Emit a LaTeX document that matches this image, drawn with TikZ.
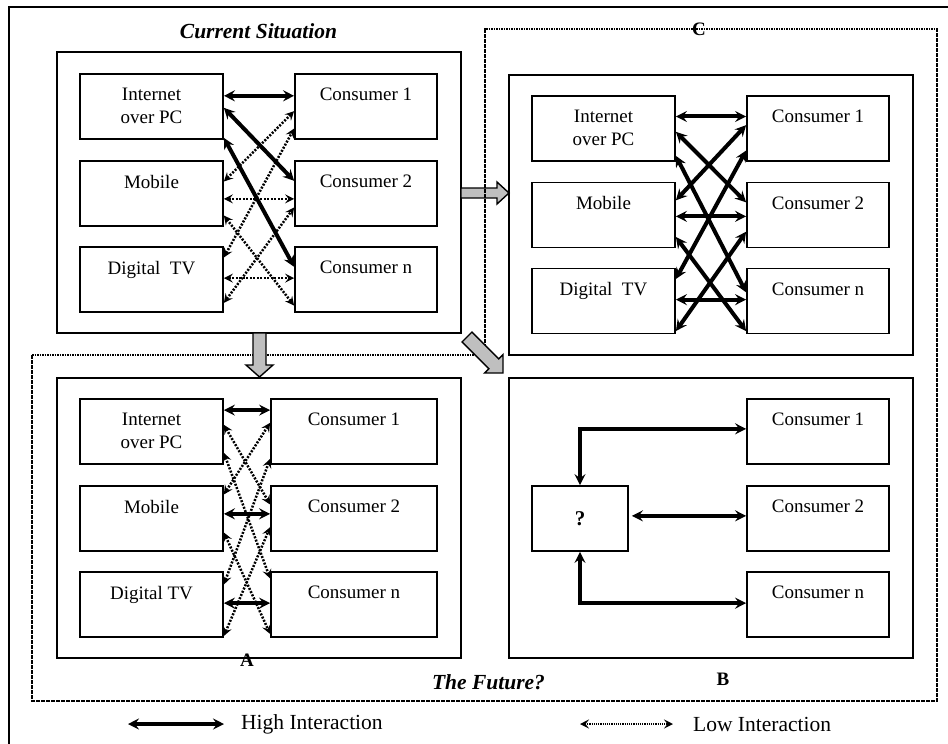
\documentclass[tikz,border=0pt]{standalone}
\usepackage{fontspec}
\setmainfont{Liberation Serif}
\usetikzlibrary{arrows.meta,calc}

\begin{document}
\begin{tikzpicture}[x=1pt,y=-1pt,
  panel/.style={draw,line width=1.8pt,inner sep=0pt},
  box/.style={draw,line width=1.8pt,inner sep=0pt,minimum height=65pt},
  lbox/.style={box,minimum width=143pt},
  rbox/.style={box,minimum width=142pt},
  wbox/.style={box,minimum width=166pt},
  qbox/.style={box,minimum width=96pt},
  boxtxt/.style={anchor=north,inner sep=0pt,align=center,font=\fontsize{19}{23}\selectfont},
  title/.style={inner sep=0pt,font=\fontsize{21.5}{26}\selectfont\bfseries\itshape},
  lab/.style={inner sep=0pt,font=\fontsize{19}{23}\selectfont\bfseries},
  legtxt/.style={inner sep=0pt,anchor=west,font=\fontsize{21.5}{26}\selectfont},
  hitip/.tip={Stealth[length=11pt,width=11pt,inset=4pt]},
  lotip/.tip={Stealth[length=9pt,width=9pt,inset=3.5pt]},
  hi/.style={line width=4pt,hitip-hitip,line join=miter},
  lo/.style={line width=2.5pt,dash pattern=on 2pt off 1.5pt,lotip-lotip},
  lolegend/.style={line width=1.6pt,dash pattern=on 1.3pt off 0.9pt,lotip-lotip},
  dotframe/.style={line width=2.8pt,dash pattern=on 1.6pt off 0.9pt},
  block/.style={draw,line width=1.4pt,fill=black!25,line join=miter}
]
\useasboundingbox (0,0) rectangle (948,744);

% outer frame (only its top and left sides fall on the page)
\draw[line width=1.8pt] (9,744) -- (9,7) -- (948,7);

% ---------------- panels ----------------
\node[panel,minimum width=404pt,minimum height=281pt] (P1) at (259,192.5) {};
\node[panel,minimum width=404pt,minimum height=280pt] (PC) at (711,215) {};
\node[panel,minimum width=404pt,minimum height=280pt] (PA) at (259,518) {};
\node[panel,minimum width=404pt,minimum height=280pt] (PB) at (711,518) {};

% block arrow into panel C (lies under the dotted frame)
\draw[block] (461,188) -- (497,188) -- (497,182) -- (509,193) -- (497,204) -- (497,198) -- (461,198) -- cycle;

% dotted frame around the possible futures
\draw[dotframe] (32,355) -- (485,355) -- (485,29) -- (937,29) -- (937,701) -- (32,701) -- cycle;

% block arrows into panels A and B
\draw[block] (253,333) -- (266,333) -- (266,365) -- (273,365) -- (259.5,377) -- (246,365) -- (253,365) -- cycle;
\draw[block] (462.05,341.95) -- (488.85,368.75) -- (484.6,373) -- (503,373) -- (503,354.6) -- (498.75,358.85) -- (471.95,332.05) -- cycle;

% ---------------- titles and labels ----------------
\node[title] (cur) at (258.5,31) {Current Situation};
\node[title] (fut) at (488.5,682) {The Future?};
\node[lab] (lA) at (247,660) {A};
\node[lab] (lB) at (723,679) {B};
\node[lab] (lC) at (699,29) {C};

% ---------------- panel 1: current situation ----------------
\node[lbox] (p1ip) at (151.5,106.5) {};
\node[lbox] (p1mo) at (151.5,193.5) {};
\node[lbox] (p1tv) at (151.5,279.5) {};
\node[rbox] (p1c1) at (366,106.5) {};
\node[rbox] (p1c2) at (366,193.5) {};
\node[rbox] (p1cn) at (366,279.5) {};
\node[boxtxt] at ([yshift=-15pt]p1ip.north) {Internet\\over PC};
\node[boxtxt] at ([yshift=-15pt]p1mo.north) {Mobile};
\node[boxtxt] at ([yshift=-15pt]p1tv.north) {Digital\ \ TV};
\node[boxtxt] at ([yshift=-15pt]p1c1.north) {Consumer 1};
\node[boxtxt] at ([yshift=-15pt]p1c2.north) {Consumer 2};
\node[boxtxt] at ([yshift=-15pt]p1cn.north) {Consumer n};
\foreach \a/\fa/\b/\fb/\s in {
  ip/.34/c1/.34/hi, ip/.52/c2/.31/hi, ip/.97/cn/.31/hi,
  mo/.32/c1/.57/lo, mo/.58/c2/.58/lo, mo/.83/cn/.89/lo,
  tv/.17/c1/.83/lo, tv/.85/c2/.71/lo, tv/.48/cn/.48/lo}
  \draw[\s] ($(p1\a.north east)!\fa!(p1\a.south east)$) -- ($(p1\b.north west)!\fb!(p1\b.south west)$);

% ---------------- panel C ----------------
\node[lbox] (pCip) at (603.5,128.5) {};
\node[lbox] (pCmo) at (603.5,215) {};
\node[lbox] (pCtv) at (603.5,301) {};
\node[rbox] (pCc1) at (818,128.5) {};
\node[rbox] (pCc2) at (818,215) {};
\node[rbox] (pCcn) at (818,301) {};
\node[boxtxt] at ([yshift=-15pt]pCip.north) {Internet\\over PC};
\node[boxtxt] at ([yshift=-15pt]pCmo.north) {Mobile};
\node[boxtxt] at ([yshift=-15pt]pCtv.north) {Digital\ \ TV};
\node[boxtxt] at ([yshift=-15pt]pCc1.north) {Consumer 1};
\node[boxtxt] at ([yshift=-15pt]pCc2.north) {Consumer 2};
\node[boxtxt] at ([yshift=-15pt]pCcn.north) {Consumer n};
\foreach \a/\fa/\b/\fb in {
  ip/.32/c1/.32, ip/.55/c2/.31, ip/.91/cn/.37,
  mo/.28/c1/.45, mo/.52/c2/.52, mo/.83/cn/.95,
  tv/.17/c1/.83, tv/.95/c2/.75, tv/.48/cn/.48}
  \draw[hi] ($(pC\a.north east)!\fa!(pC\a.south east)$) -- ($(pC\b.north west)!\fb!(pC\b.south west)$);

% ---------------- panel A ----------------
\node[lbox] (pAip) at (151.5,431.5) {};
\node[lbox] (pAmo) at (151.5,518.5) {};
\node[lbox] (pAtv) at (151.5,604.5) {};
\node[wbox] (pAc1) at (354,431.5) {};
\node[wbox] (pAc2) at (354,518.5) {};
\node[wbox] (pAcn) at (354,604.5) {};
\node[boxtxt] at ([yshift=-15pt]pAip.north) {Internet\\over PC};
\node[boxtxt] at ([yshift=-15pt]pAmo.north) {Mobile};
\node[boxtxt] at ([yshift=-15pt]pAtv.north) {Digital TV};
\node[boxtxt] at ([yshift=-15pt]pAc1.north) {Consumer 1};
\node[boxtxt] at ([yshift=-15pt]pAc2.north) {Consumer 2};
\node[boxtxt] at ([yshift=-15pt]pAcn.north) {Consumer n};
\foreach \a/\fa/\b/\fb/\s in {
  ip/.18/c1/.18/hi, mo/.43/c2/.43/hi, tv/.48/cn/.48/hi,
  ip/.40/c2/.29/lo, ip/.82/cn/.11/lo, mo/.14/c1/.37/lo,
  mo/.71/cn/.94/lo, tv/.20/c1/.91/lo, tv/.97/c2/.63/lo}
  \draw[\s] ($(pA\a.north east)!\fa!(pA\a.south east)$) -- ($(pA\b.north west)!\fb!(pA\b.south west)$);

% ---------------- panel B ----------------
\node[qbox] (pBq) at (580,518.5) {};
\node[rbox] (pBc1) at (818,431.5) {};
\node[rbox] (pBc2) at (818,518.5) {};
\node[rbox] (pBcn) at (818,604.5) {};
\node[inner sep=0pt,font=\fontsize{21}{25}\selectfont\bfseries] at (pBq.center) {?};
\node[boxtxt] at ([yshift=-15pt]pBc1.north) {Consumer 1};
\node[boxtxt] at ([yshift=-15pt]pBc2.north) {Consumer 2};
\node[boxtxt] at ([yshift=-15pt]pBcn.north) {Consumer n};
\draw[hi] ($(pBc1.north west)!.46!(pBc1.south west)$) -| (pBq.north);
\draw[hi,shorten <=3pt] ($(pBq.north east)!.46!(pBq.south east)$) -- ($(pBc2.north west)!.46!(pBc2.south west)$);
\draw[hi] ($(pBcn.north west)!.48!(pBcn.south west)$) -| (pBq.south);

% ---------------- legend ----------------
\coordinate (hiL) at (128,724);
\coordinate (hiR) at (224,724);
\draw[hi] (hiL) -- (hiR);
\node[legtxt] (hitxt) at (241,724) {High Interaction};
\coordinate (loL) at (580,724);
\coordinate (loR) at (673,724);
\draw[lolegend] (loL) -- (loR);
\node[legtxt] (lotxt) at (693,724) {Low Interaction};
\end{tikzpicture}
\end{document}
